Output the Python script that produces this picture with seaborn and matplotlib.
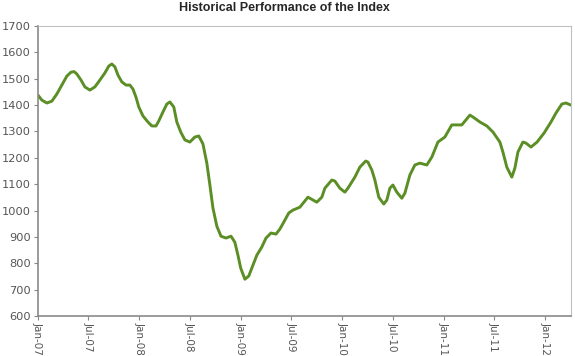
import pandas as pd
import numpy as np
import matplotlib
matplotlib.use("Agg")
import matplotlib.pyplot as plt
import matplotlib.dates as mdates
import seaborn as sns

# values
dates = [
    "2007-01-01", "2007-01-15", "2007-02-02", "2007-02-20", "2007-03-10", "2007-03-28",
    "2007-04-15", "2007-04-30", "2007-05-11", "2007-05-21", "2007-06-05", "2007-06-19",
    "2007-07-07", "2007-07-25", "2007-08-12", "2007-08-30", "2007-09-13", "2007-09-24",
    "2007-10-05", "2007-10-16", "2007-10-30", "2007-11-14", "2007-11-28", "2007-12-09",
    "2007-12-20", "2007-12-30", "2008-01-14", "2008-02-01", "2008-02-15", "2008-03-01",
    "2008-03-11", "2008-03-26", "2008-04-09", "2008-04-20", "2008-05-04", "2008-05-15",
    "2008-05-29", "2008-06-13", "2008-07-01", "2008-07-19", "2008-08-02", "2008-08-17",
    "2008-08-31", "2008-09-11", "2008-09-22", "2008-10-06", "2008-10-21", "2008-11-08",
    "2008-11-26", "2008-12-10", "2008-12-21", "2008-12-31", "2009-01-15", "2009-01-29",
    "2009-02-13", "2009-02-27", "2009-03-17", "2009-04-01", "2009-04-19", "2009-05-07",
    "2009-05-21", "2009-06-08", "2009-06-22", "2009-07-07", "2009-08-01", "2009-08-30",
    "2009-10-01", "2009-10-19", "2009-10-30", "2009-11-24", "2009-12-05", "2009-12-23",
    "2010-01-10", "2010-01-21", "2010-02-15", "2010-03-05", "2010-03-26", "2010-04-03",
    "2010-04-17", "2010-04-28", "2010-05-12", "2010-05-30", "2010-06-10", "2010-06-21",
    "2010-07-02", "2010-07-16", "2010-08-03", "2010-08-14", "2010-09-01", "2010-09-19",
    "2010-10-07", "2010-11-01", "2010-11-19", "2010-12-11", "2011-01-05", "2011-01-30",
    "2011-02-17", "2011-03-07", "2011-04-05", "2011-04-16", "2011-05-11", "2011-06-05",
    "2011-06-27", "2011-07-22", "2011-08-02", "2011-08-16", "2011-09-03", "2011-09-14",
    "2011-09-25", "2011-10-13", "2011-10-24", "2011-11-11", "2011-12-03", "2011-12-28",
    "2012-01-22", "2012-02-09", "2012-03-01", "2012-03-16", "2012-04-03",
]
index_values = [
    1438, 1419, 1408, 1415, 1442, 1476,
    1510, 1525, 1527, 1518, 1495, 1469,
    1457, 1469, 1495, 1522, 1548, 1556,
    1545, 1514, 1488, 1476, 1476, 1461,
    1430, 1393, 1359, 1336, 1321, 1321,
    1340, 1374, 1404, 1412, 1393, 1336,
    1298, 1268, 1260, 1279, 1283, 1253,
    1180, 1097, 1010, 941, 903, 896,
    903, 880, 831, 782, 740, 752,
    793, 831, 862, 896, 915, 911,
    930, 964, 991, 1002, 1013, 1051,
    1032, 1051, 1085, 1116, 1112, 1085,
    1070, 1085, 1127, 1165, 1188, 1184,
    1154, 1116, 1051, 1025, 1040, 1085,
    1097, 1070, 1047, 1066, 1135, 1173,
    1180, 1173, 1203, 1260, 1279, 1325,
    1325, 1325, 1362, 1355, 1336, 1321,
    1298, 1260, 1222, 1165, 1127, 1161,
    1222, 1260, 1256, 1241, 1260, 1294,
    1336, 1370, 1404, 1408, 1400,
]
y_ticks = list(range(600, 1701, 100))

df = pd.DataFrame({"date": pd.to_datetime(dates), "value": index_values})

sns.set_style("white")
plt.rcParams["font.family"] = ["DejaVu Sans"]

fig = plt.figure(figsize=(5.75, 3.56), dpi=100)
ax = fig.add_axes([0.066, 0.112, 0.927, 0.815])

sns.lineplot(data=df, x="date", y="value", ax=ax, color="#5b8e25", linewidth=2.1)

ax.set_xlim(pd.Timestamp("2007-01-01"), pd.Timestamp("2012-04-03"))
ax.set_ylim(600, 1700)
ax.set_yticks(y_ticks)
ax.xaxis.set_major_locator(mdates.MonthLocator(bymonth=[1, 7]))
ax.xaxis.set_major_formatter(mdates.DateFormatter("%b-%y"))
ax.set_xlabel("")
ax.set_ylabel("")

ax.tick_params(axis="both", which="major", labelcolor="#555555",
               color="#888888", length=3, width=0.8, direction="out",
               bottom=True, left=True)
ax.tick_params(axis="x", pad=1, labelsize=7.5)
ax.tick_params(axis="y", pad=2, labelsize=8.2)
plt.setp(ax.get_xticklabels(), rotation=270, ha="center", va="top")

for side in ["left", "bottom"]:
    ax.spines[side].set_color("#8a8a8a")
    ax.spines[side].set_linewidth(1.2)
for side in ["top", "right"]:
    ax.spines[side].set_color("#c0c0c0")
    ax.spines[side].set_linewidth(0.8)

fig.text(0.495, 0.977, "Historical Performance of the Index", ha="center", va="center",
         fontsize=9, fontweight="bold", family=["Liberation Sans", "DejaVu Sans"])

fig.savefig("out.png", dpi=100)
